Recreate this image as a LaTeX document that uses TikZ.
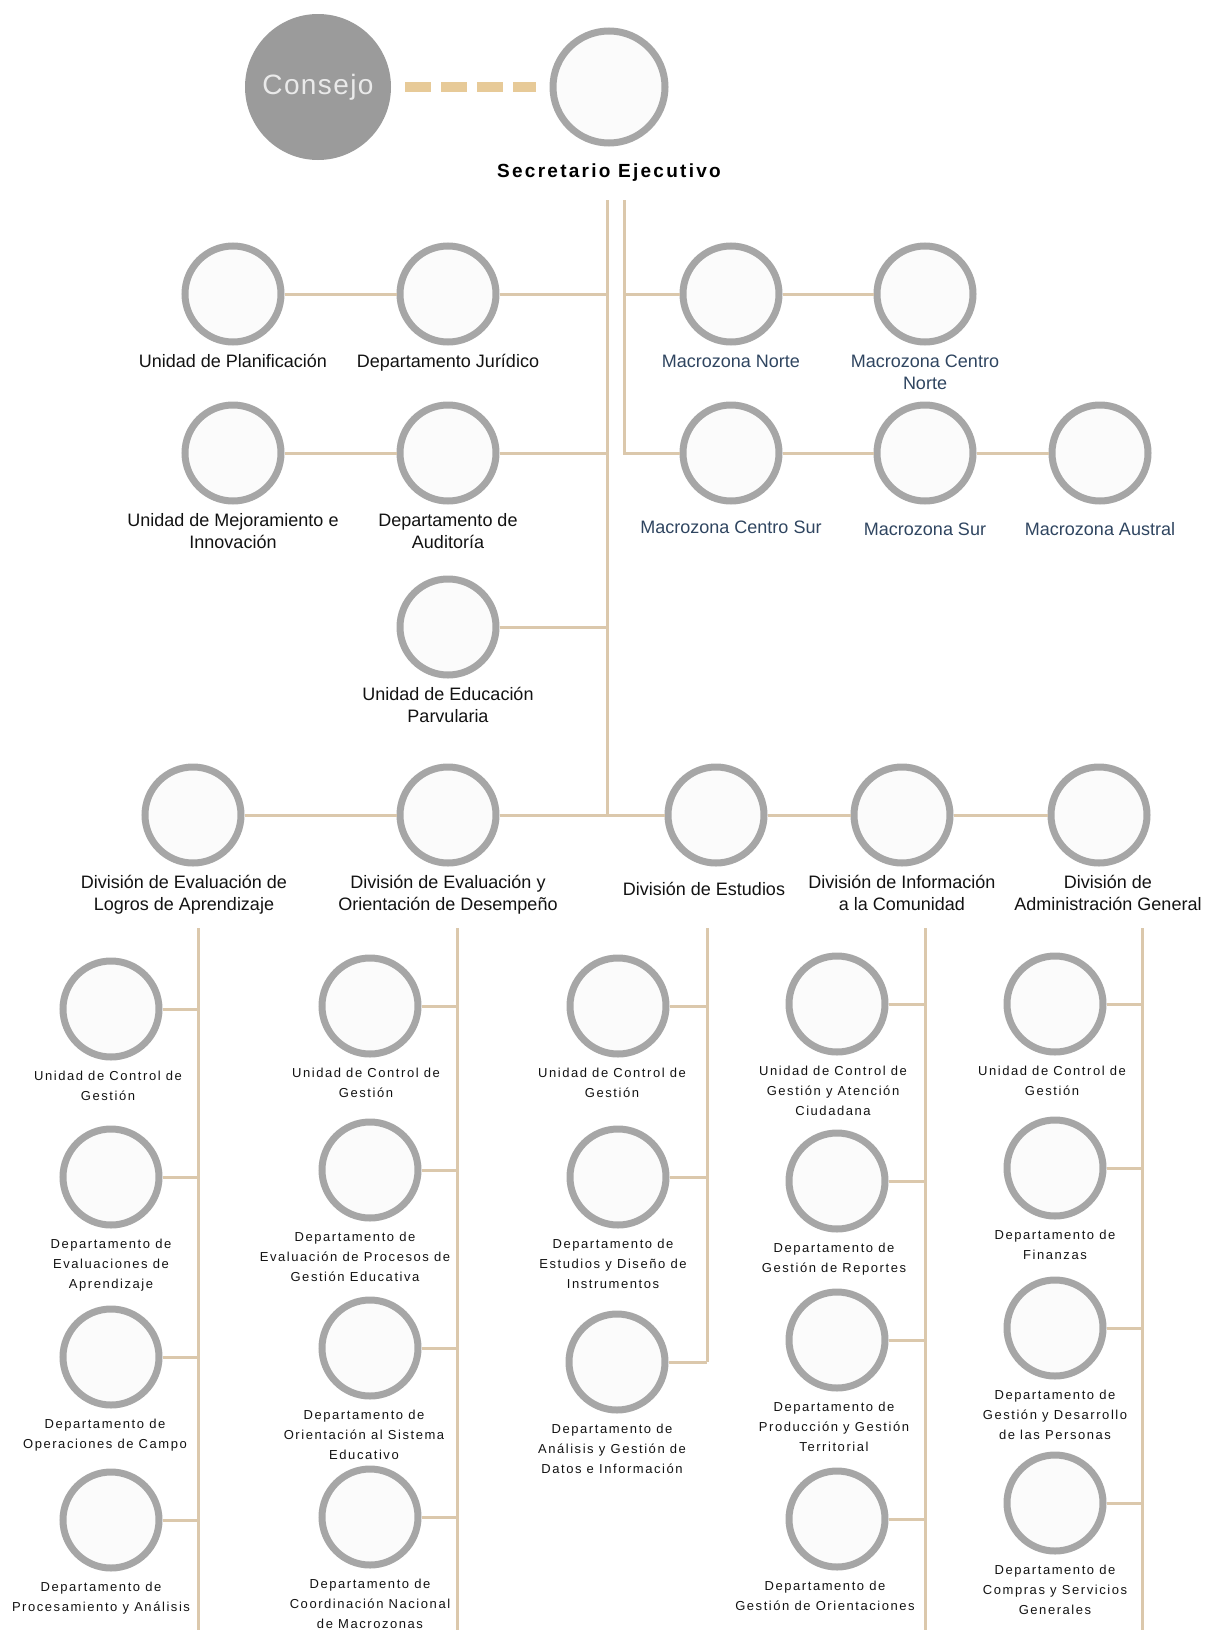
\documentclass[tikz,border=0pt]{standalone}
\usepackage{fontspec}
\setmainfont{Liberation Sans}
\newfontfamily\subfont{Liberation Sans}[LetterSpace=12]
\newfontfamily\titlefont{Liberation Sans}[LetterSpace=12]
\newfontfamily\consfont{Liberation Sans}[LetterSpace=5]
\usetikzlibrary{positioning}
\definecolor{ringgrey}{RGB}{166,166,166}
\definecolor{discfill}{RGB}{251,251,251}
\definecolor{councilgrey}{RGB}{155,155,155}
\definecolor{counciltext}{RGB}{234,234,234}
\definecolor{linktan}{RGB}{219,200,172}
\definecolor{dashtan}{RGB}{231,202,152}
\definecolor{macroblue}{RGB}{47,69,96}
\definecolor{textdark}{RGB}{18,18,18}
\tikzset{
  unit/.style={circle, draw=ringgrey, fill=discfill, line width=7pt, minimum size=96pt, inner sep=0pt},
  head/.style={unit, minimum size=112pt},
  council/.style={circle, fill=councilgrey, minimum size=146pt, inner sep=0pt, text=counciltext, font=\consfont\fontsize{28}{30}\selectfont},
  lbl/.style={font=\fontsize{18}{22}\selectfont, align=center, inner sep=0pt, text=textdark},
  mlbl/.style={lbl, text=macroblue},
  tlbl/.style={lbl, font=\titlefont\bfseries\fontsize{19}{22}\selectfont, text=black},
  slbl/.style={font=\subfont\fontsize{13}{20}\selectfont, align=center, inner sep=0pt, text=textdark},
  link/.style={draw=linktan, line width=3pt},
  dashlink/.style={draw=dashtan, line width=10pt, dash pattern=on 26pt off 10pt, shorten >=14pt, shorten <=14pt},
}
% upper units: [label shift] name, position, label style, text
\newcommand{\unidad}[5][]{\node[unit] (#2) at (#3) {}; \node[#4, below=9pt of #2, #1] (#2-t) {#5};}
% lower units hang from a trunk: [label shift] name, position, trunk, text
\newcommand{\subunidad}[5][]{\node[unit] (#2) at (#3) {}; \node[slbl, below=10pt of #2, #1] (#2-t) {#5}; \draw[link] (#2.east) -- (#2 -| #4);}

\begin{document}
\begin{tikzpicture}[x=1pt,y=-1pt]
  \useasboundingbox (0,0) rectangle (1213,1630);
  \node[council] (cons) at (318,87) {Consejo};
  \node[head] (sec) at (609,87) {};
  \node[tlbl, below=17pt of sec] (sec-t) {Secretario Ejecutivo};
  \draw[dashlink] (cons) -- (sec);
  \coordinate (t0) at (607,200);
  \coordinate (m0) at (624,200);
  % staff units
  \unidad{plan}{233,294}{lbl}{Unidad de Planificación}
  \unidad{jur}{448,294}{lbl}{Departamento Jurídico}
  \unidad{mejo}{233,453}{lbl}{Unidad de Mejoramiento e\\Innovación}
  \unidad{aud}{448,453}{lbl}{Departamento de\\Auditoría}
  \unidad{parv}{448,627}{lbl}{Unidad de Educación\\Parvularia}
  % macrozonas
  \unidad{mnorte}{731,294}{mlbl}{Macrozona Norte}
  \unidad{mcnorte}{925,294}{mlbl}{Macrozona Centro\\Norte}
  \unidad[yshift=-7pt]{mcsur}{731,453}{mlbl}{Macrozona Centro Sur}
  \unidad[yshift=-9pt]{msur}{925,453}{mlbl}{Macrozona Sur}
  \unidad[yshift=-9pt]{maus}{1100,453}{mlbl}{Macrozona Austral}
  % divisions
  \unidad[xshift=-9pt]{d1}{193,815}{lbl}{División de Evaluación de\\Logros de Aprendizaje}
  \unidad{d2}{448,815}{lbl}{División de Evaluación y\\Orientación de Desempeño}
  \unidad[xshift=-12pt,yshift=-7pt]{d3}{716,815}{lbl}{División de Estudios}
  \unidad{d4}{902,815}{lbl}{División de Información\\a la Comunidad}
  \unidad[xshift=9pt]{d5}{1099,815}{lbl}{División de\\Administración General}
  \draw[link] (t0) -- (t0 |- d3);
  \draw[link] (m0) -- (m0 |- mcsur) -- (mcsur.west);
  \draw[link] (m0 |- mnorte) -- (mnorte.west);
  \draw[link] (mnorte) -- (mcnorte);
  \draw[link] (mcsur) -- (msur) -- (maus);
  \draw[link] (plan) -- (jur);
  \draw[link] (jur.east) -- (jur -| t0);
  \draw[link] (mejo) -- (aud);
  \draw[link] (aud.east) -- (aud -| t0);
  \draw[link] (parv.east) -- (parv -| t0);
  \draw[link] (d1) -- (d2) -- (d3) -- (d4) -- (d5);
  % trunks under the divisions
  \foreach \n/\x in {1/198,2/457,3/707,4/925,5/1142}{\coordinate (k\n) at (\x,928);}
  \foreach \n/\x in {1/198,2/457,4/925,5/1142}{\draw[link] (k\n) -- (\x,1630);}
  \subunidad[xshift=-3pt]{c11}{111,1009}{k1}{Unidad de Control de\\Gestión}
  \subunidad{c12}{111,1177}{k1}{Departamento de\\Evaluaciones de\\Aprendizaje}
  \subunidad[xshift=-6pt]{c13}{111,1357}{k1}{Departamento de\\Operaciones de Campo}
  \subunidad[xshift=-10pt]{c14}{111,1520}{k1}{Departamento de\\Procesamiento y Análisis}
  \subunidad[xshift=-4pt]{c21}{370,1006}{k2}{Unidad de Control de\\Gestión}
  \subunidad[xshift=-15pt]{c22}{370,1170}{k2}{Departamento de\\Evaluación de Procesos de\\Gestión Educativa}
  \subunidad[xshift=-6pt]{c23}{370,1348}{k2}{Departamento de\\Orientación al Sistema\\Educativo}
  \subunidad{c24}{370,1517}{k2}{Departamento de\\Coordinación Nacional\\de Macrozonas}
  \subunidad[xshift=-6pt]{c31}{618,1006}{k3}{Unidad de Control de\\Gestión}
  \subunidad[xshift=-5pt]{c32}{618,1177}{k3}{Departamento de\\Estudios y Diseño de\\Instrumentos}
  \subunidad[xshift=-5pt]{c33}{617,1362}{k3}{Departamento de\\Análisis y Gestión de\\Datos e Información}
  \draw[link] (k3) -- (k3 |- c33);
  \subunidad[xshift=-4pt]{c41}{837,1004}{k4}{Unidad de Control de\\Gestión y Atención\\Ciudadana}
  \subunidad[xshift=-3pt]{c42}{837,1181}{k4}{Departamento de\\Gestión de Reportes}
  \subunidad[xshift=-3pt]{c43}{837,1340}{k4}{Departamento de\\Producción y Gestión\\Territorial}
  \subunidad[xshift=-12pt]{c44}{837,1519}{k4}{Departamento de\\Gestión de Orientaciones}
  \subunidad[xshift=-3pt]{c51}{1055,1004}{k5}{Unidad de Control de\\Gestión}
  \subunidad{c52}{1055,1168}{k5}{Departamento de\\Finanzas}
  \subunidad{c53}{1055,1328}{k5}{Departamento de\\Gestión y Desarrollo\\de las Personas}
  \subunidad{c54}{1055,1503}{k5}{Departamento de\\Compras y Servicios\\Generales}
\end{tikzpicture}
\end{document}
